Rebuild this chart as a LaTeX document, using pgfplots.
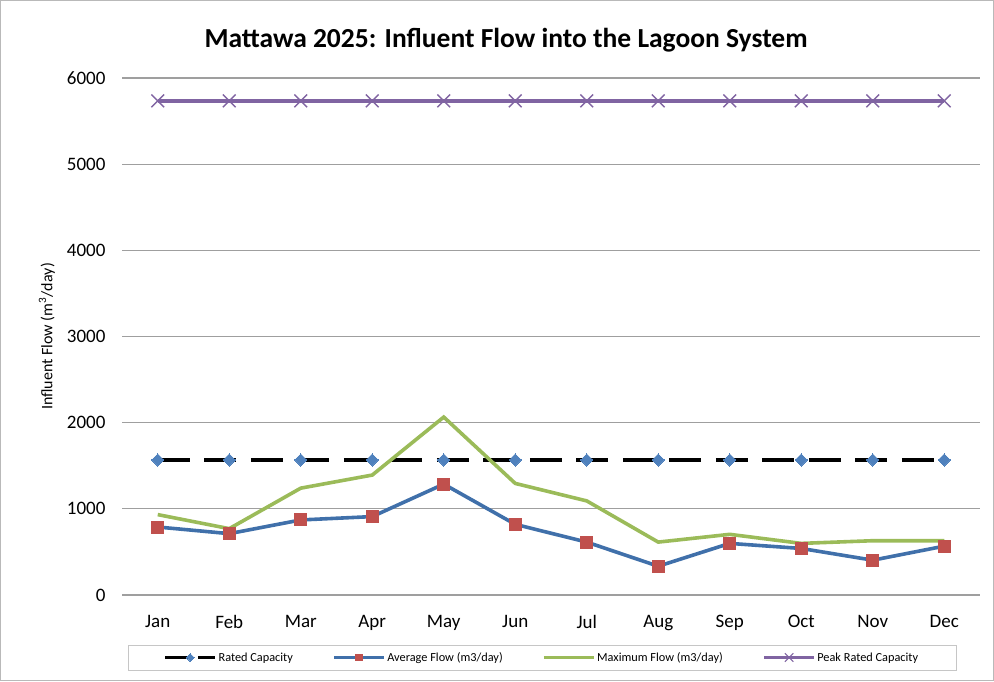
\documentclass[border=0pt]{standalone}
\usepackage{pgfplots}
\pgfplotsset{compat=1.18}
\usepackage{fontspec}
\setmainfont{Carlito}
\definecolor{ratedblue}{HTML}{4F81BD}
\definecolor{avgblue}{HTML}{4070AA}
\definecolor{avgred}{HTML}{C0504D}
\definecolor{maxgreen}{HTML}{9BBB59}
\definecolor{peakpurple}{HTML}{8064A2}
\begin{document}
\begin{tikzpicture}
\useasboundingbox (0pt,0pt) rectangle (994pt,681pt);
\draw[gray!55, line width=1pt] (0.5pt,0.5pt) rectangle (993.5pt,680.5pt);
\node[font=\fontsize{27.5}{32}\selectfont\bfseries] at (506pt,641pt) {Mattawa 2025: Influent Flow into the Lagoon System};
\begin{axis}[
  at={(122pt,86pt)}, anchor=south west,
  width=858pt, height=517pt, scale only axis,
  xmin=-0.5, xmax=11.5, ymin=0, ymax=6000,
  xtick={0,...,11},
  xticklabels={Jan,Feb,Mar,Apr,May,Jun,Jul,Aug,Sep,Oct,Nov,Dec},
  ytick={0,1000,...,6000},
  ymajorgrids, grid style={draw=gray!75, line width=1.2pt},
  axis line style={draw=none},
  major tick style={draw=none},
  tick label style={font=\fontsize{19}{21}\selectfont},
  /pgf/number format/assume math mode=true,
  scaled y ticks=false,
  yticklabel style={/pgf/number format/1000 sep={}, xshift=-13pt},
  xticklabel style={yshift=-17pt},
  ylabel={Influent Flow (m\textsuperscript{3}/day)},
  every axis y label/.style={at={(axis description cs:-0.0874,0.5)}, rotate=90, anchor=center, font=\fontsize{16}{18}\selectfont},
  legend style={at={(axis description cs:0.4896,-0.121)}, anchor=center,
    legend columns=4, draw=gray!45, font=\fontsize{12.3}{13.5}\selectfont,
    inner xsep=36pt, inner ysep=5pt,
    /tikz/every even column/.append style={column sep=38pt}},
  legend cell align=left,
  legend image code/.code={\draw[mark repeat=2,mark phase=2,#1] plot coordinates {(0pt,0pt) (25pt,0pt) (50pt,0pt)};},
  clip=false,
]
\addplot[forget plot, black, line width=4pt, dash pattern=on 32pt off 14.5pt,
  mark=square*, mark size=4.3pt, mark options={solid, rotate=45, fill=ratedblue, draw=ratedblue, line width=0pt}]
  coordinates {(0,1567) (1,1567) (2,1567) (3,1567) (4,1567) (5,1567) (6,1567) (7,1567) (8,1567) (9,1567) (10,1567) (11,1567)};
\addplot[forget plot, avgblue, line width=3.6pt,
  mark=square*, mark size=6pt, mark options={fill=avgred, draw=avgred, line width=0pt}]
  coordinates {(0,789) (1,712) (2,871) (3,910) (4,1287) (5,820) (6,614) (7,334) (8,599) (9,540) (10,404) (11,567)};
\addplot[forget plot, maxgreen, line width=3.6pt, mark=none]
  coordinates {(0,933) (1,770) (2,1240) (3,1392) (4,2065) (5,1295) (6,1092) (7,614) (8,704) (9,599) (10,630) (11,630)};
\addplot[forget plot, peakpurple, line width=3.6pt, mark=x, mark size=9pt, mark options={line width=1.5pt}]
  coordinates {(0,5735) (1,5735) (2,5735) (3,5735) (4,5735) (5,5735) (6,5735) (7,5735) (8,5735) (9,5735) (10,5735) (11,5735)};
\addlegendimage{black, line width=2.6pt, dash pattern=on 24pt off 9pt, mark=square*, mark size=2.8pt, mark options={solid, rotate=45, fill=ratedblue, draw=ratedblue, line width=0pt}}
\addlegendimage{avgblue, line width=2.4pt, mark=square*, mark size=3.3pt, mark options={fill=avgred, draw=avgred, line width=0pt}}
\addlegendimage{maxgreen, line width=2.4pt}
\addlegendimage{peakpurple, line width=2.4pt, mark=x, mark size=6pt, mark options={line width=1pt}}
\legend{Rated Capacity, Average Flow (m3/day), Maximum Flow (m3/day), Peak Rated Capacity}
\end{axis}
\end{tikzpicture}
\end{document}
